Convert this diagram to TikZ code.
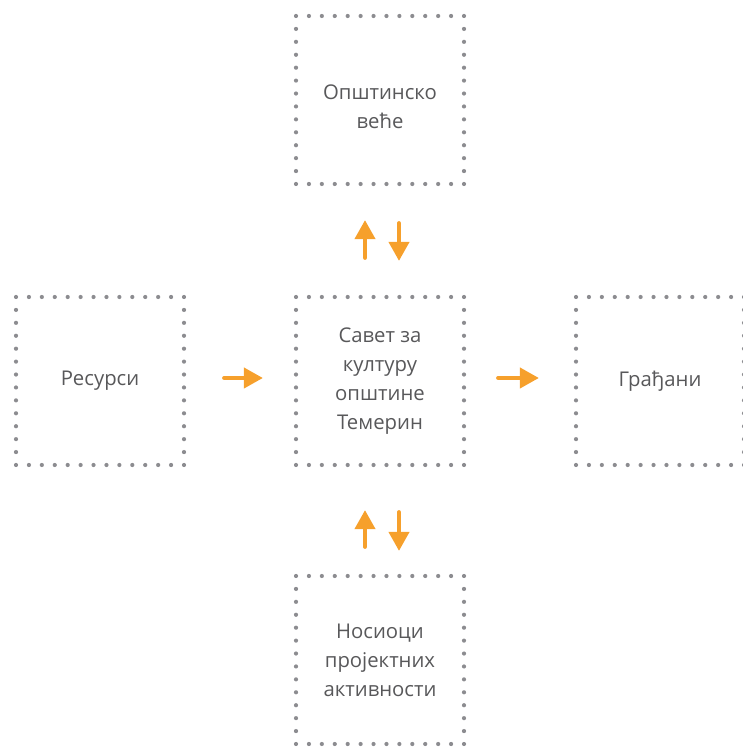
\documentclass[tikz,border=0pt]{standalone}
\usepackage{fontspec}
\setmainfont{Open Sans}
\usepackage{tikz}
\usetikzlibrary{arrows.meta}
\definecolor{dotgray}{HTML}{8C8C90}
\definecolor{txtgray}{HTML}{58585A}
\definecolor{arrorange}{HTML}{F6A02C}

\begin{document}
\begin{tikzpicture}[
  x=1pt, y=1pt,
  box/.style={draw=dotgray, line width=4.2pt, line cap=round, dash pattern=on 0pt off 12.923pt,
    minimum size=168pt, inner sep=0pt, align=center, text=txtgray,
    font=\fontsize{20.3}{29}\selectfont},
  arr/.style={draw=arrorange, line width=4pt, line cap=round,
    -{Triangle[length=19pt, width=20pt]}},
]
\useasboundingbox (0,0) rectangle (742,747);

% --- Boxes ---
\node[box] (savet) at (380, 366) {Савет за\\културу\\општине\\Темерин};
\node[box] (vece) at (380, 647) {\raisebox{-8pt}[\height][\depth]{\begin{tabular}{@{}c@{}}Општинско\\веће\end{tabular}}};
\node[box] (resursi) at (100, 366) {Ресурси};
\node[box] (gradjani) at (660, 366) {Грађани};
\node[box] (nosioci) at (380, 87) {Носиоци\\пројектних\\активности};

% --- Arrows ---
\draw[arr, shorten <=37pt, shorten >=34pt] ([xshift=-15pt]savet.north) -- ([xshift=-15pt]vece.south);
\draw[arr, shorten <=37pt, shorten >=34pt] ([xshift=19pt]vece.south) -- ([xshift=19pt]savet.north);
\draw[arr, shorten <=27pt, shorten >=43pt] ([xshift=-15pt]nosioci.north) -- ([xshift=-15pt]savet.south);
\draw[arr, shorten <=45pt, shorten >=23pt] ([xshift=19pt]savet.south) -- ([xshift=19pt]nosioci.north);
\draw[arr, shorten <=38pt, shorten >=31pt] ([yshift=3pt]resursi.east) -- ([yshift=3pt]savet.west);
\draw[arr, shorten <=32pt, shorten >=35pt] ([yshift=3pt]savet.east) -- ([yshift=3pt]gradjani.west);
\end{tikzpicture}
\end{document}
